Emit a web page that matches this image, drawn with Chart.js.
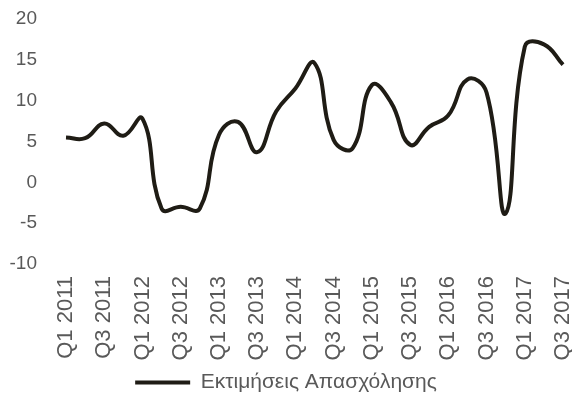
<!DOCTYPE html>
<html>
<head>
<meta charset="utf-8">
<script src="https://cdn.jsdelivr.net/npm/chart.js@4/dist/chart.umd.min.js"></script>
<style>
  html, body { margin: 0; padding: 0; background: #ffffff; }
  #wrap { width: 572px; height: 399px; position: relative; }
</style>
</head>
<body>
<div id="wrap"><canvas id="c" width="572" height="399"></canvas></div>
<script>
const categories = [
  "Q1 2011","Q2 2011","Q3 2011","Q4 2011",
  "Q1 2012","Q2 2012","Q3 2012","Q4 2012",
  "Q1 2013","Q2 2013","Q3 2013","Q4 2013",
  "Q1 2014","Q2 2014","Q3 2014","Q4 2014",
  "Q1 2015","Q2 2015","Q3 2015","Q4 2015",
  "Q1 2016","Q2 2016","Q3 2016","Q4 2016",
  "Q1 2017","Q2 2017","Q3 2017"
];
const employmentEstimates = [
  5.5, 5.4, 7.2, 5.7,
  7.8, -3.2, -3.0, -3.2,
  5.8, 7.4, 3.7, 8.7,
  11.5, 14.6, 5.2, 4.2,
  11.9, 9.8, 4.6, 6.8,
  8.2, 12.6, 11.0, -3.8,
  16.6, 16.9, 14.4
];
const seriesName = "Εκτιμήσεις Απασχόλησης";
const yMin = -10, yMax = 20, yStep = 5;

const FONT = "'Liberation Sans', Arial, sans-serif";
const TEXT = "#595959";
const LINE = "#1f1c15";

new Chart(document.getElementById("c"), {
  type: "line",
  data: {
    labels: categories,
    datasets: [{
      label: seriesName,
      data: employmentEstimates,
      borderColor: LINE,
      backgroundColor: LINE,
      borderWidth: 4,
      pointRadius: 0,
      pointHoverRadius: 0,
      tension: 0.45,
      fill: false,
      pointStyle: "line"
    }]
  },
  options: {
    responsive: false,
    animation: false,
    devicePixelRatio: 1,
    layout: { padding: { top: 0, left: 0, right: 0, bottom: -4 } },
    plugins: {
      tooltip: { enabled: false },
      legend: {
        position: "bottom",
        labels: {
          usePointStyle: true,
          pointStyleWidth: 55,
          padding: 5,
          color: TEXT,
          font: { family: FONT, size: 21 }
        }
      }
    },
    scales: {
      x: {
        offset: false,
        grid: { display: false, drawTicks: false },
        border: { display: false },
        ticks: {
          autoSkip: false,
          minRotation: 90,
          maxRotation: 90,
          padding: 12,
          color: TEXT,
          font: { family: FONT, size: 22 },
          callback: function(v, i) { return i % 2 === 0 ? categories[i] : ""; }
        },
        afterFit: function(s) {
          s.height = 103;
          s.paddingLeft = 0;
          s.paddingRight = 9;
        }
      },
      y: {
        min: yMin,
        max: yMax,
        grid: { display: false, drawTicks: false },
        border: { display: false },
        ticks: {
          stepSize: yStep,
          padding: 29,
          color: TEXT,
          font: { family: FONT, size: 19 }
        },
        afterFit: function(s) {
          s.width = 66;
          s.paddingTop = 19;
          s.paddingBottom = 0;
        }
      }
    }
  }
});
</script>
</body>
</html>
